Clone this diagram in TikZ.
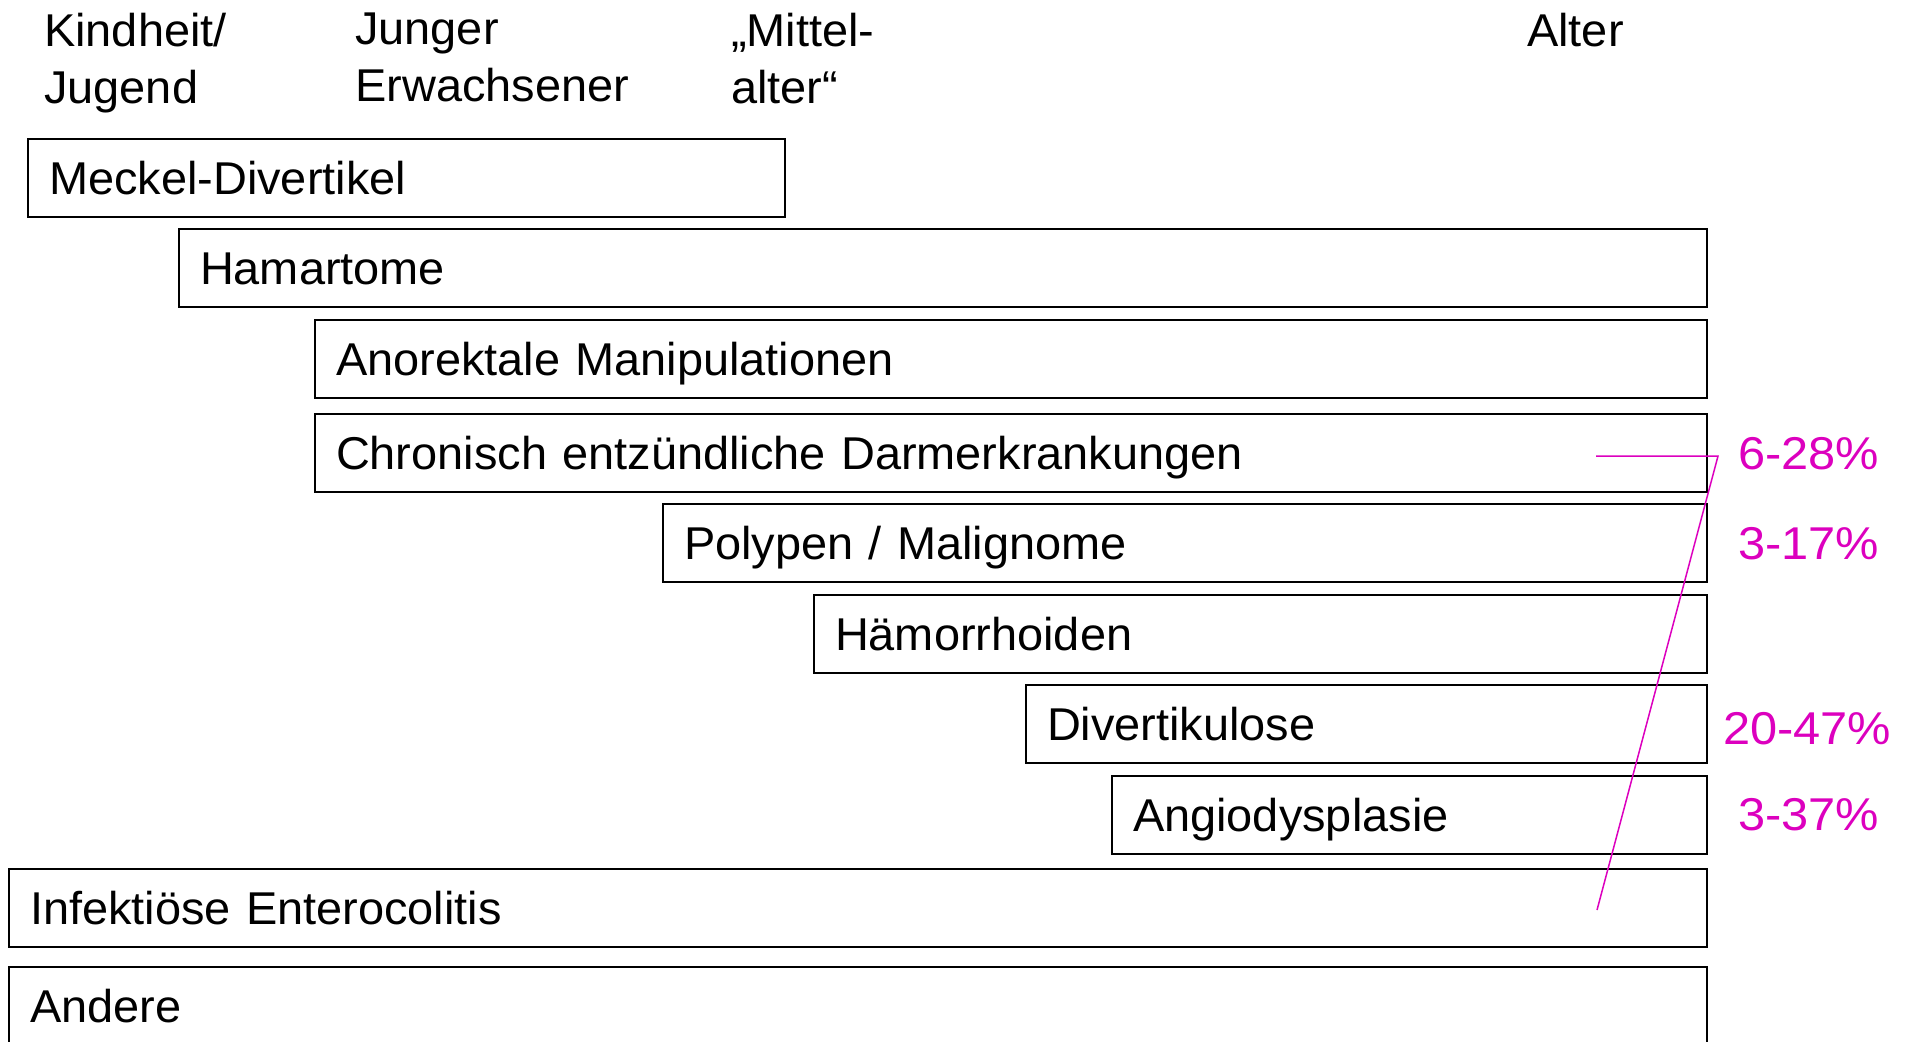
\documentclass[tikz,border=0pt]{standalone}
\usepackage{fontspec}
\setmainfont[FakeStretch=1.02]{Liberation Sans}
\newfontfamily\pctfamily[FakeStretch=1.06]{Liberation Sans}
\definecolor{mag}{RGB}{220,0,190}
\newcommand\bigfnt{\fontsize{46}{57}\selectfont}
\newcommand\pctfnt{\pctfamily\fontsize{46}{57}\selectfont}
\begin{document}
\begin{tikzpicture}[x=1pt,y=-1pt,
  bx/.style={draw=black, line width=1.8pt, anchor=north west, outer sep=0pt,
    inner xsep=21pt, inner ysep=0pt, minimum height=78pt,
    text height=32pt, text depth=0pt, align=left, font=\bigfnt},
  hdr/.style={anchor=north west, inner sep=0pt, align=left, font=\bigfnt},
  pct/.style={anchor=west, inner sep=0pt, text=mag, text height=33pt, text depth=0pt, font=\pctfnt},
  magline/.style={draw=mag, line width=1.5pt}]
\useasboundingbox (0,0) rectangle (1908,1041);
\clip (0,0) rectangle (1908,1041);
% header
\node[hdr] (h1) at (44,13) {Kindheit/\\Jugend};
\node[hdr] (h2) at (355,13) {Junger\\Erwachsener};
\node[hdr] (h3) at (731,13) {„Mittel-\\alter“};
\node[hdr] (h4) at (1527,13) {Alter};
% boxes
\node[bx, minimum width=757pt, text width=715pt] (meckel) at (28,139) {Meckel-Divertikel};
\node[bx, minimum width=1528pt, text width=1486pt] (hamart) at (179,229) {Hamartome};
\node[bx, minimum width=1392pt, text width=1350pt] (anorek) at (315,320) {Anorektale Manipulationen};
\node[bx, minimum width=1392pt, text width=1350pt] (ced) at (315,414) {Chronisch entzündliche Darmerkrankungen};
\node[bx, minimum width=1044pt, text width=1002pt] (polyp) at (663,504) {Polypen / Malignome};
\node[bx, minimum width=893pt, text width=851pt] (haem) at (814,595) {Hämorrhoiden};
\node[bx, minimum width=681pt, text width=639pt] (divert) at (1026,685) {Divertikulose};
\node[bx, minimum width=595pt, text width=553pt] (angio) at (1112,776) {Angiodysplasie};
\node[bx, minimum width=1698pt, text width=1656pt] (infekt) at (9,869) {Infektiöse Enterocolitis};
\node[bx, minimum width=1698pt, text width=1656pt] (andere) at (9,967) {Andere};
% percentages
\node[pct] (p1) at (1738,453) {6-28\%};
\node[pct] (p2) at (1738,543) {3-17\%};
\node[pct] (p3) at (1723,728) {20-47\%};
\node[pct] (p4) at (1738,814) {3-37\%};
% magenta bracket line
\coordinate (m1) at (1596,456);
\coordinate (m2) at (1718,456);
\coordinate (m3) at (1597,910);
\draw[magline] (m1) -- (m2) -- (m3);
\end{tikzpicture}
\end{document}
